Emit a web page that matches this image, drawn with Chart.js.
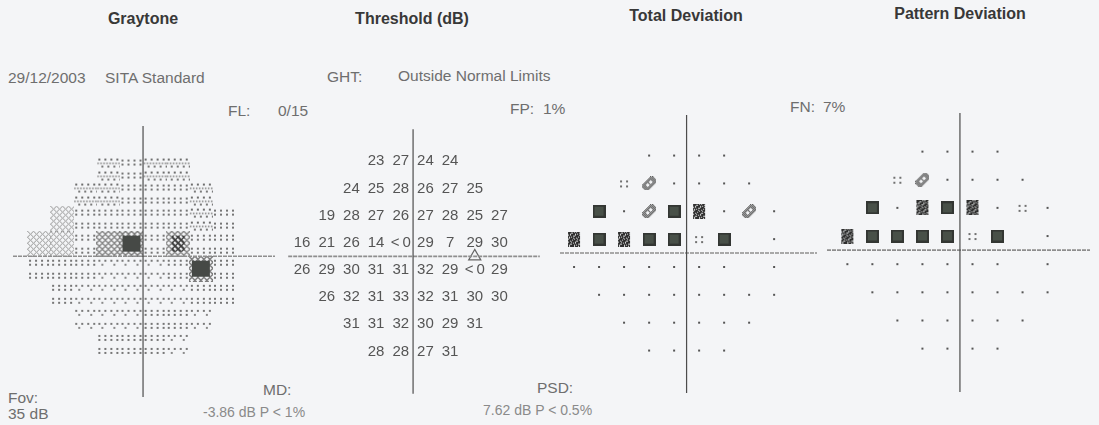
<!DOCTYPE html>
<html><head><meta charset="utf-8">
<script src="https://cdn.jsdelivr.net/npm/chart.js@4.4.1/dist/chart.umd.min.js"></script>
<style>
html,body{margin:0;padding:0;background:#f4f5f7;}
#wrap{position:relative;width:1099px;height:425px;overflow:hidden;font-family:'Liberation Sans',Arial,sans-serif;}
#wrap canvas{position:absolute;}
.t{position:absolute;white-space:nowrap;color:#6e6e6e;font-size:15.5px;line-height:15px;}
.s{position:absolute;white-space:nowrap;color:#8a8a8a;font-size:14px;line-height:14px;}
.h{position:absolute;white-space:nowrap;color:#383838;font-weight:bold;font-size:16px;line-height:16px;transform:translateX(-50%);}
</style></head><body><div id="wrap">
<div class="h" style="left:143px;top:11px">Graytone</div>
<div class="h" style="left:412px;top:11px">Threshold (dB)</div>
<div class="h" style="left:686px;top:8px">Total Deviation</div>
<div class="h" style="left:960px;top:6px">Pattern Deviation</div>
<div class="t" style="left:8px;top:70px">29/12/2003</div>
<div class="t" style="left:105px;top:70px">SITA Standard</div>
<div class="t" style="left:327px;top:69px">GHT:</div>
<div class="t" style="left:398px;top:68px">Outside Normal Limits</div>
<div class="t" style="left:228px;top:103px">FL:</div>
<div class="t" style="left:278px;top:103px">0/15</div>
<div class="t" style="left:510px;top:101px">FP:</div>
<div class="t" style="left:543px;top:101px">1%</div>
<div class="t" style="left:790px;top:99px">FN:</div>
<div class="t" style="left:823px;top:99px">7%</div>
<div class="t" style="left:8px;top:390px">Fov:</div>
<div class="t" style="left:8px;top:406px">35 dB</div>
<div class="t" style="left:263px;top:382px">MD:</div>
<div class="s" style="left:203px;top:405px">-3.86 dB P &lt; 1%</div>
<div class="t" style="left:537px;top:380px">PSD:</div>
<div class="s" style="left:483px;top:403px">7.62 dB P &lt; 0.5%</div>
</div>
<script>
// ---- data (24-2 test grid, right eye) ----
const rowY = [21, 15, 9, 3, -3, -9, -15, -21];
const rowX = [
  [-9, -3, 3, 9],
  [-15, -9, -3, 3, 9, 15],
  [-21, -15, -9, -3, 3, 9, 15, 21],
  [-27, -21, -15, -9, -3, 3, 9, 15, 21],
  [-27, -21, -15, -9, -3, 3, 9, 15, 21],
  [-21, -15, -9, -3, 3, 9, 15, 21],
  [-15, -9, -3, 3, 9, 15],
  [-9, -3, 3, 9]
];
// threshold in dB, -1 means "<0"
const thresholdRows = [
  [23, 27, 24, 24],
  [24, 25, 28, 26, 27, 25],
  [19, 28, 27, 26, 27, 28, 25, 27],
  [16, 21, 26, 14, -1, 29, 7, 29, 30],
  [26, 29, 30, 31, 31, 32, 29, -1, 29],
  [26, 32, 31, 33, 32, 31, 30, 30],
  [31, 31, 32, 30, 29, 31],
  [28, 28, 27, 31]
];
// probability symbols: ns = not significant, p5 <5%, p2 <2%, p1 <1%, p05 <0.5%, null = blind spot
const totalDevProb = [
  ['ns', 'ns', 'ns', 'ns'],
  ['p5', 'p2', 'ns', 'ns', 'ns', 'ns'],
  ['p05', 'ns', 'p2', 'p05', 'p1', 'ns', 'p2', 'ns'],
  ['p1', 'p05', 'p1', 'p05', 'p05', 'p5', 'p05', null, 'ns'],
  ['ns', 'ns', 'ns', 'ns', 'ns', 'ns', 'ns', null, 'ns'],
  ['ns', 'ns', 'ns', 'ns', 'ns', 'ns', 'ns', 'ns'],
  ['ns', 'ns', 'ns', 'ns', 'ns', 'ns'],
  ['ns', 'ns', 'ns', 'ns']
];
const patternDevProb = [
  ['ns', 'ns', 'ns', 'ns'],
  ['p5', 'p2', 'ns', 'ns', 'ns', 'ns'],
  ['p05', 'ns', 'p1', 'p05', 'p1', 'ns', 'p5', 'ns'],
  ['p1', 'p05', 'p05', 'p05', 'p05', 'p5', 'p05', null, 'ns'],
  ['ns', 'ns', 'ns', 'ns', 'ns', 'ns', 'ns', null, 'ns'],
  ['ns', 'ns', 'ns', 'ns', 'ns', 'ns', 'ns', 'ns'],
  ['ns', 'ns', 'ns', 'ns', 'ns', 'ns'],
  ['ns', 'ns', 'ns', 'ns']
];
const blindSpotMarker = [{x: 15, y: 0}];

// ---- helpers ----
function buildPoints(rows) {
  const pts = [];
  rows.forEach((r, i) => r.forEach((v, j) => {
    if (v === null) return;
    pts.push({x: rowX[i][j], y: rowY[i], v: v});
  }));
  return pts;
}
function tile(w, h, fn) { const c = document.createElement('canvas'); c.width = w; c.height = h; fn(c.getContext('2d'), w, h); return c; }
function px(g, x, y, s, col) { g.fillStyle = col; g.fillRect(x, y, s, s); }
function latt(x, y) { return (x + y) % 6 === 0 || ((x - y) % 6 + 6) % 6 === 0; }
function lattice(g, w, h, col, thick) {
  for (let x = 0; x < w; x++) for (let y = 0; y < h; y++)
    if (latt(x, y) || (thick && latt(x + 1, y))) px(g, x, y, 1, col);
}

const gtTiles = [
  tile(24, 26, g => { for (const y of [4, 17]) for (let x = 2; x < 24; x += 6) px(g, x, y, 2, '#7a7a7a');
                      for (const y of [8, 21]) for (let x = 5; x < 24; x += 12) px(g, x, y, 2, '#8a8a8a'); }),
  tile(24, 26, g => { for (const y of [4, 8, 17, 21]) for (let x = 2; x < 24; x += 6) px(g, x, y, 2, '#767676'); }),
  tile(24, 26, g => { for (const y of [3, 16]) for (let x = 2; x < 24; x += 6) px(g, x, y, 2, '#6e6e6e');
                      for (const y of [7, 20]) for (let x = 1; x < 24; x += 3) px(g, x, y, 1.5, '#7e7e7e');
                      for (const y of [10, 23]) for (let x = 5; x < 24; x += 6) px(g, x, y, 2, '#7a7a7a'); }),
  tile(24, 26, g => lattice(g, 24, 26, '#929292', false)),
  tile(24, 26, g => lattice(g, 24, 26, '#888', true)),
  tile(24, 26, g => { lattice(g, 24, 26, '#8a8a8a', true);
                      for (let x = 6; x < 19; x++) for (let y = 5; y < 21; y++) if (latt(x, y) || latt(x + 1, y) || latt(x, y + 1)) px(g, x, y, 1, '#3f3f3f'); }),
  tile(24, 26, g => { lattice(g, 24, 26, '#7a7a7a', true); g.fillStyle = '#505050'; g.fillRect(4, 5, 16, 16); }),
  tile(24, 26, g => { lattice(g, 24, 26, '#7c7c7c', true); g.fillStyle = '#464946'; g.fillRect(3, 5, 18, 16); })
];
function grayLevel(v) {
  if (v <= 0) return 7; if (v <= 5) return 6; if (v <= 10) return 5; if (v <= 15) return 4;
  if (v <= 21) return 3; if (v <= 25) return 2; if (v <= 30) return 1; return 0;
}
const symTiles = {
  ns: tile(6, 6, g => px(g, 2, 2, 2, '#555')),
  p5: tile(12, 10, g => { for (const [x, y] of [[2, 2], [8, 2], [2, 7], [8, 7]]) px(g, x, y, 2, '#707070'); }),
  p2: tile(14, 14, g => {
    for (let x = 0; x < 14; x++) for (let y = 0; y < 14; y++) {
      const d = x + y - 13, e = x - y;
      if (Math.abs(d) <= 5 && Math.abs(e) <= 11 && (x + y) % 2 === 0 && !(Math.abs(d) <= 1 && Math.abs(e) <= 4 && Math.abs(e) >= 2)) px(g, x, y, 1.2, '#4e4e4e');
    }
  }),
  p1: tile(14, 15, g => {
    g.fillStyle = '#2e2e2e'; g.fillRect(1, 0, 12, 15);
    for (let x = 1; x < 13; x++) for (let y = 0; y < 15; y++) if ((x + 2 * y) % 7 === 0 || (2 * x + y) % 9 === 0) px(g, x, y, 1, '#dcdede');
  }),
  p05: tile(13, 13, g => { g.fillStyle = '#333633'; g.fillRect(0, 0, 13, 13); g.fillStyle = '#485048'; g.fillRect(2, 2, 9, 9); })
};

// ---- plugins ----
const crossPlugin = {
  id: 'cross',
  afterDatasetsDraw(chart) {
    const {ctx, chartArea: a, scales: {x, y}} = chart;
    const x0 = x.getPixelForValue(0), y0 = y.getPixelForValue(0);
    ctx.save();
    ctx.strokeStyle = '#8e8e8e'; ctx.lineWidth = 1.6; ctx.setLineDash([4, 1]);
    ctx.beginPath(); ctx.moveTo(a.left, y0); ctx.lineTo(a.right, y0); ctx.stroke();
    ctx.setLineDash([]); ctx.strokeStyle = '#4c4c4c'; ctx.lineWidth = 1.2;
    ctx.beginPath(); ctx.moveTo(x0, a.top); ctx.lineTo(x0, a.bottom); ctx.stroke();
    ctx.restore();
  }
};
const labelPlugin = {
  id: 'valueLabels',
  afterDatasetsDraw(chart) {
    const ctx = chart.ctx;
    chart.data.datasets.forEach((ds, i) => {
      if (!ds.textLabels) return;
      const meta = chart.getDatasetMeta(i);
      ctx.save();
      ctx.font = '15px "Liberation Sans", Arial, sans-serif';
      ctx.fillStyle = '#555'; ctx.textAlign = 'center'; ctx.textBaseline = 'middle';
      meta.data.forEach((el, j) => ctx.fillText(ds.textLabels[j], el.x, el.y));
      ctx.restore();
    });
  }
};

function makeChart(box, xr, yr, datasets) {
  const c = document.createElement('canvas');
  c.width = box[2]; c.height = box[3];
  c.style.left = box[0] + 'px'; c.style.top = box[1] + 'px';
  document.getElementById('wrap').appendChild(c);
  return new Chart(c, {
    type: 'scatter',
    data: {datasets},
    options: {
      responsive: false, animation: false, events: [],
      layout: {padding: 0},
      plugins: {legend: {display: false}, tooltip: {enabled: false}},
      scales: {
        x: {type: 'linear', display: false, min: xr[0], max: xr[1]},
        y: {type: 'linear', display: false, min: yr[0], max: yr[1]}
      }
    },
    plugins: [crossPlugin, labelPlugin]
  });
}

// Graytone
const gtPts = buildPoints(thresholdRows);
makeChart([8, 121, 272, 281], [-33.75, 34.25], [-33.72, 31.18], [{
  data: gtPts, clip: false, pointRadius: 1,
  pointStyle: c => c.raw ? gtTiles[grayLevel(c.raw.v)] : 'circle'
}]);

// Threshold
const thPts = buildPoints(thresholdRows);
makeChart([280, 121, 268, 281], [-30.37, 30.82], [-30.35, 28.07], [
  {data: thPts, pointRadius: 0, clip: false, textLabels: thPts.map(p => p.v < 0 ? '<\u20090' : String(p.v))},
  {data: blindSpotMarker, pointStyle: 'triangle', pointRadius: 7, borderWidth: 1.2,
   pointBorderColor: '#666', pointBackgroundColor: 'rgba(0,0,0,0)', clip: false}
]);

// Total deviation
const tdPts = buildPoints(totalDevProb);
makeChart([555, 110, 267, 288], [-30.37, 31.29], [-30.15, 29.73], [{
  data: tdPts, clip: false, pointRadius: 1,
  pointStyle: c => c.raw ? symTiles[c.raw.v] : 'circle'
}]);

// Pattern deviation
const pdPts = buildPoints(patternDevProb);
makeChart([822, 108, 273, 289], [-31.87, 31.18], [-30.25, 29.22], [{
  data: pdPts, clip: false, pointRadius: 1,
  pointStyle: c => c.raw ? symTiles[c.raw.v] : 'circle'
}]);
</script>
</body></html>
